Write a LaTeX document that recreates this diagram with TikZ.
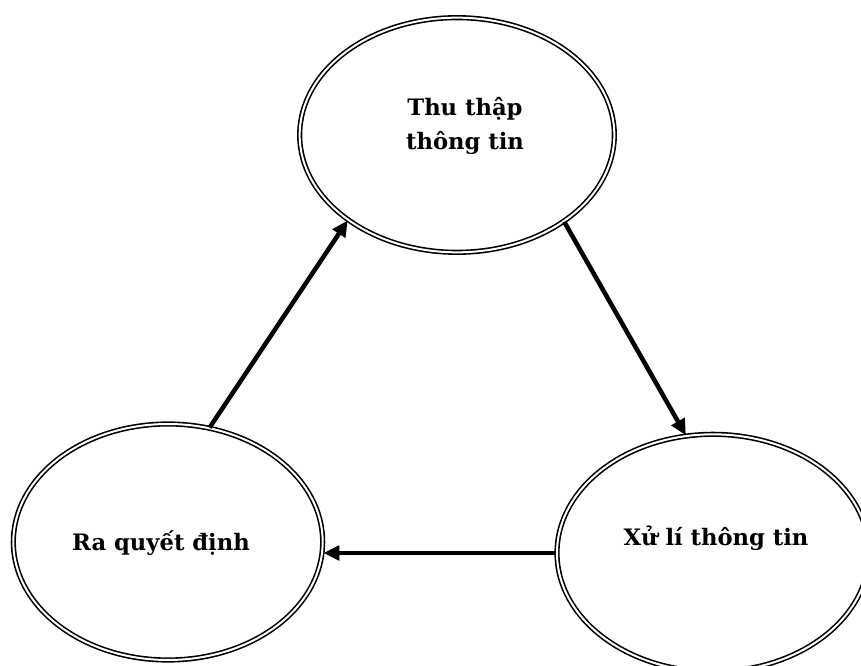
\documentclass[tikz,border=0pt]{standalone}
\usepackage{fontspec}
\setmainfont{DejaVu Serif}
\usetikzlibrary{shapes.geometric,arrows.meta}
\tikzset{
  bubble/.style={ellipse, draw, double, line width=1.2pt, double distance=1.5pt, inner sep=0pt},
  label/.style={font=\bfseries\fontsize{17}{26}\selectfont, align=center},
  flow/.style={line width=3.4pt, -{Triangle[length=12pt,width=11pt]}}
}
\begin{document}
\begin{tikzpicture}[x=0.75pt,y=-0.75pt]
\useasboundingbox (0,0) rectangle (861,666);
\node[bubble, minimum width=236pt, minimum height=176pt] (top) at (457,135) {};
\node[label] (toptext) at (465,126) {Thu thập\\thông tin};
\node[bubble, minimum width=232pt, minimum height=177pt] (left) at (168,542) {};
\node[label] (lefttext) at (161,543) {Ra quyết định};
\node[bubble, minimum width=234pt, minimum height=178pt] (right) at (713,553) {};
\node[label] (righttext) at (716,538) {Xử lí thông tin};
\draw[flow] (top.-39.7) -- (right.103);
\draw[flow] (right.west) -- (left.east |- right.west);
\draw[flow] (left.70) -- (top.218.7);
\end{tikzpicture}
\end{document}
